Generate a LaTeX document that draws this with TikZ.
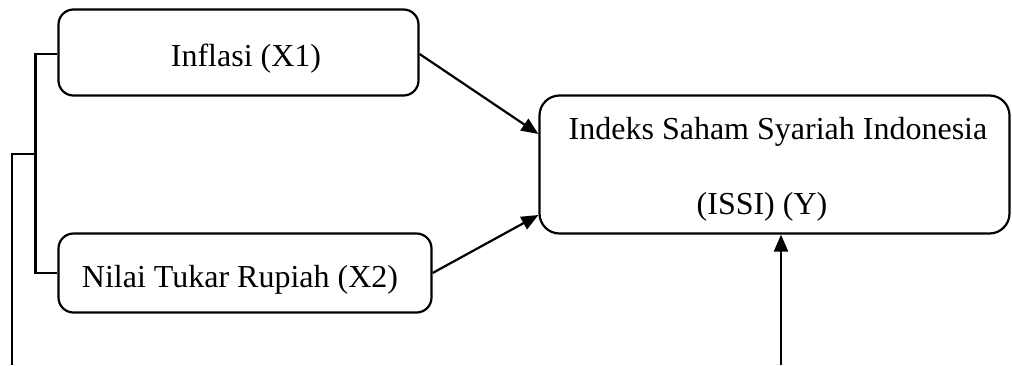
\documentclass[tikz,border=0pt]{standalone}
\usepackage{fontspec}
\setmainfont{Liberation Serif}
\usetikzlibrary{arrows.meta,calc}
\begin{document}
\begin{tikzpicture}[x=1pt,y=-1pt,
  box/.style={draw, line width=2.2pt, rounded corners=15pt, inner sep=0pt},
  lbl/.style={anchor=base, inner sep=0pt, font=\fontsize{32}{38}\selectfont},
  conn/.style={line width=2.2pt},
  arr/.style={line width=2.2pt, -{Triangle[length=17pt,width=14pt]}}]
\useasboundingbox (0,0) rectangle (1012,365);
% boxes
\node[box, minimum width=360pt, minimum height=86pt] (x1) at (238.5,52.5) {};
\node[box, minimum width=373pt, minimum height=79pt] (x2) at (245,273) {};
\node[box, rounded corners=20pt, minimum width=470pt, minimum height=138pt] (y) at (774.5,164.5) {};
% labels
\node[lbl] (x1t) at (246,66.5) {Inflasi (X1)};
\node[lbl] (x2t) at (240,287) {Nilai Tukar Rupiah (X2)};
\node[lbl] (yt1) at (778,139) {Indeks Saham Syariah Indonesia};
\node[lbl] (yt2) at (762,214) {(ISSI) (Y)};
% bracket on the left
\coordinate (j) at (36,154);
\coordinate (e) at (12,365);
\draw[conn] ($(x1.west)+(0,1.5)$) -- ++(-22,0) |- (x2.west);
\draw[conn] (j) -| (e);
% arrows
\draw[arr] ($(x1.east)+(0,1.5)$) -- ($(y.west)+(0,-30.5)$);
\draw[arr] (x2.east) -- ($(y.west)+(0,50.5)$);
\coordinate (b) at (781,365);
\draw[arr] (b) -- (b |- y.south);
\end{tikzpicture}
\end{document}
